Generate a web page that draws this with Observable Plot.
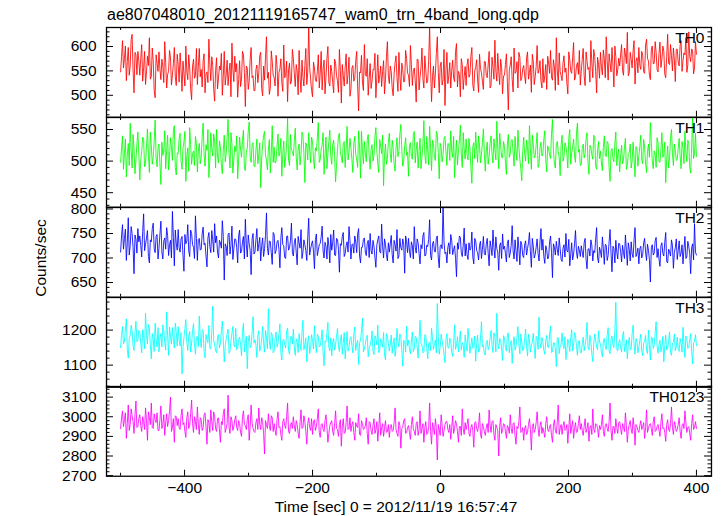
<!DOCTYPE html>
<html><head><meta charset="utf-8">
<script src="https://cdn.jsdelivr.net/npm/d3@7"></script>
<script src="https://cdn.jsdelivr.net/npm/@observablehq/plot@0.6"></script>
<style>
body{margin:0;background:#fff}
#wrap{position:relative;width:724px;height:516px;overflow:hidden;background:#fff;font-family:"Liberation Sans",Arial,Helvetica,sans-serif;color:#000}
.p{position:absolute;left:0}
.txt{position:absolute;white-space:nowrap;line-height:1}
</style></head><body>
<div id="wrap"></div>
<script>
const titleText = "ae807048010_20121119165747_wam0_trn_4band_long.qdp";
const xLabel = "Time [sec] 0 = 2012/11/19 16:57:47";
const yLabel = "Counts/sec";
// time bins: start and bin width (sec)
const t0 = -500, dt = 1.5;

const th0 = [
548,580,612,556,575,601,530,569,598,541,560,614,625,552,505,588,583,542,590,571,
541,575,604,529,557,590,522,548,580,561,618,533,538,597,571,510,495,583,566,549,
589,553,532,574,560,526,610,567,515,543,549,592,577,521,541,565,598,538,520,584,
563,527,587,552,508,570,545,519,601,548,532,583,556,512,491,560,574,535,540,596,
522,559,596,538,553,517,570,585,505,544,548,526,615,563,530,579,561,512,488,551,
577,513,535,560,552,586,500,539,590,521,541,572,520,548,566,497,607,554,528,580,
548,565,496,532,571,518,533,590,583,547,477,560,556,512,529,574,598,536,540,509,
510,553,562,526,545,581,588,514,499,560,531,578,620,535,547,502,515,591,570,541,
536,519,582,560,498,547,554,575,526,508,603,536,541,570,487,552,566,523,529,594,
575,545,518,563,550,501,592,537,506,572,538,519,561,596,522,548,640,557,533,510,
497,568,556,531,528,549,583,515,545,590,511,554,572,503,538,576,600,526,519,562,
549,527,505,574,566,540,530,506,594,551,484,563,541,519,557,585,523,543,578,498,
512,556,561,529,535,571,590,517,468,548,546,582,527,510,604,542,539,575,500,534,
565,514,529,553,552,586,495,537,583,525,540,560,518,548,571,503,533,579,610,540,
524,560,548,515,499,544,567,581,536,508,588,539,510,566,553,527,529,592,575,546,
541,518,602,563,520,549,556,530,486,574,573,511,538,556,597,534,515,581,552,525,
530,571,640,552,487,538,560,515,545,586,620,547,505,560,568,521,532,594,479,550,
588,524,541,567,515,551,572,535,528,590,606,517,549,543,497,575,563,512,538,559,
520,562,575,537,543,580,598,521,509,550,557,573,531,506,584,555,546,529,512,569,
569,541,536,562,590,515,520,578,557,533,613,550,529,586,548,522,574,557,503,540,
541,563,585,528,470,551,562,579,533,507,597,545,548,569,515,588,578,530,536,554,
561,540,524,577,589,533,547,562,506,584,570,522,538,559,602,545,552,571,529,515,
575,526,540,563,512,580,566,545,592,537,531,573,558,510,618,552,521,587,549,540,
530,566,581,547,556,525,503,589,573,550,545,578,608,531,538,560,567,543,592,521,
549,574,596,540,520,589,571,553,557,527,612,566,536,594,580,548,505,578,563,535,
588,557,542,593,575,536,620,571,531,585,566,548,598,562,517,601,579,540,552,576,
560,583,604,551,541,597,585,565,629,540,546,588,574,556,591,612,523,570,577,546,
598,561,553,590,582,548,545,603,615,576,570,541,532,595,601,564,566,610,588,553,
548,586,609,557,574,601,590,543,536,579,625,566,563,604,581,550,597,573,528,594,
595,568,560,603,612,549,571,587,583,618,547,562,630,580,569,595,591,544,556,610,
584];

const th1 = [
498,521,540,487,512,535,475,509,528,493,560,517,489,542,519,480,503,527,546,512,
470,502,515,538,533,491,496,524,551,510,482,546,524,495,507,531,565,505,491,520,
527,495,463,530,509,516,548,488,518,541,486,507,537,522,501,549,556,490,478,513,
512,536,544,500,487,520,530,547,468,509,521,484,553,526,495,512,516,493,539,528,
483,515,528,496,505,539,560,511,492,526,517,550,474,502,545,520,508,543,531,489,
550,508,497,532,523,494,480,518,541,499,511,537,566,512,489,545,526,481,503,524,
515,540,472,503,538,519,506,533,549,488,485,514,520,547,562,507,498,526,529,492,
491,517,535,496,510,529,458,505,526,541,547,510,501,486,519,534,481,513,556,498,
522,497,499,524,543,508,514,536,476,511,532,490,505,527,568,501,493,542,518,515,
508,531,552,506,486,519,527,494,511,546,540,513,466,529,523,502,545,517,497,538,
530,504,488,521,516,537,561,498,502,519,525,545,479,510,538,488,512,531,549,507,
495,526,533,509,467,492,519,540,544,515,506,497,528,531,490,518,555,502,514,536,
521,503,482,528,539,511,503,490,548,522,473,547,517,496,531,513,499,534,542,508,
487,519,526,500,509,538,553,516,495,482,534,523,512,541,461,509,527,495,505,530,
544,511,498,533,520,495,484,521,537,507,515,543,558,518,492,500,524,537,509,514,
476,524,529,507,503,542,547,497,518,530,489,515,536,488,507,526,564,510,496,539,
517,494,555,520,485,533,528,506,501,547,543,512,472,528,522,499,510,536,539,515,
493,528,527,501,548,516,506,539,474,509,533,494,515,532,557,511,490,545,520,503,
535,510,502,536,519,491,465,523,529,504,546,518,498,540,524,497,511,529,551,512,
484,516,530,495,507,528,540,511,497,535,518,502,563,520,488,544,525,506,505,531,
523,498,479,527,542,506,511,533,534,514,492,539,516,501,549,521,503,488,469,515,
538,512,500,533,521,496,556,519,487,541,527,505,508,526,545,490,495,522,530,508,
512,535,548,502,483,524,519,510,504,543,566,517,496,489,528,531,515,506,477,526,
541,500,506,529,524,511,489,537,550,495,513,522,535,508,498,545,560,514,519,493,
494,520,527,505,512,536,545,498,479,525,522,510,503,541,539,492,487,517,531,504,
516,497,485,522,540,509,507,531,528,490,468,515,520,504,499,527,546,493,510,519,
483,508,525,496,502,521,536,487,493,512,514,527,489,500,530,505,475,523,519,492,
508,523,541,502,496,534,521,497,482,515,527,506,561,529,500,488,516,511,490,537,
529,499,498,518,545,506,511,530,466,504,524,489,506,536,550,512,493,527,517,501,
503,520,536,508,488,531,522,496,547,515,499,533,528,490,481,523,570,504,512,544,
507];

const th2 = [
712,745,768,718,740,759,695,731,782,706,725,764,750,722,668,747,738,710,760,733,
745,726,702,754,790,715,728,741,756,703,690,737,733,760,771,719,711,744,748,698,
720,749,775,712,698,735,741,718,762,746,705,727,736,700,795,742,684,757,730,716,
758,721,712,739,744,706,673,748,729,735,768,714,703,757,750,727,722,699,786,740,
695,738,740,716,718,749,763,727,730,704,682,741,752,723,711,756,737,712,770,731,
745,712,700,736,731,720,776,744,655,729,724,705,748,751,708,726,765,697,719,739,
738,721,690,745,757,710,713,733,744,698,779,728,702,747,729,716,666,739,750,708,
712,737,760,714,728,742,694,725,741,703,719,746,792,720,706,735,733,711,687,752,
748,709,715,733,736,718,680,741,762,727,725,701,699,744,745,716,721,735,771,712,
704,731,740,712,686,744,731,720,758,699,712,737,727,715,695,742,781,706,718,729,
735,712,678,738,749,705,716,727,730,743,765,714,700,732,724,698,742,725,690,748,
716,731,757,706,705,740,738,718,671,729,726,744,752,703,709,725,733,712,764,736,
698,727,729,710,745,733,711,749,760,704,690,722,722,738,741,712,705,729,736,701,
750,715,708,736,724,702,681,727,737,745,713,710,769,724,700,739,728,707,694,731,
712,729,746,707,690,736,727,714,758,699,704,740,721,716,739,728,669,745,733,711,
740,714,701,733,725,698,764,722,710,739,731,709,688,727,719,745,752,704,706,726,
723,738,778,705,696,729,734,714,712,741,745,700,680,724,727,719,805,733,709,712,
690,722,731,708,748,736,707,717,725,699,662,731,718,745,742,711,703,726,761,704,
729,707,697,731,716,720,753,702,688,740,735,715,711,696,726,734,699,718,744,709,
706,728,740,710,684,735,722,705,757,721,700,743,719,712,675,726,731,699,749,718,
724,709,692,730,737,701,710,726,766,714,698,737,715,693,743,720,686,734,727,705,
701,727,735,706,719,731,752,713,681,740,724,700,707,722,739,709,694,733,760,716,
738,703,689,725,717,698,702,733,745,711,660,729,722,706,734,718,705,741,719,697,
693,720,727,702,750,715,712,738,684,707,731,696,708,729,756,712,699,724,716,703,
725,712,701,731,740,697,678,718,719,704,737,726,694,715,711,739,762,700,690,722,
714,701,743,719,687,728,726,695,705,733,758,710,672,724,720,690,736,712,698,730,
729,713,692,726,711,699,747,716,685,731,718,694,733,708,701,737,762,703,709,720,
688,719,724,700,707,731,740,712,695,728,716,697,651,722,727,706,710,735,742,701,
719,698,683,725,731,709,704,732,752,693,690,718,713,704,737,726,679,711,721,739,
697,715,735,703,710,727,688,718,744,699,702,734,724,709,668,721,729,696,770,712,
706];

const th3 = [
1150,1188,1210,1161,1168,1203,1232,1145,1120,1177,1185,1214,1198,1156,1142,1192,1225,1167,1170,1199,
1195,1163,1135,1201,1180,1147,1248,1184,1160,1216,1205,1158,1118,1190,1176,1139,1220,1174,1152,1207,
1138,1177,1190,1152,1215,1198,1165,1143,1252,1185,1128,1209,1182,1160,1207,1174,1149,1220,1196,1155,
1210,1171,1155,1193,1075,1150,1178,1204,1230,1166,1142,1183,1196,1137,1163,1199,1218,1158,1131,1180,
1182,1153,1240,1178,1150,1201,1199,1139,1121,1187,1172,1164,1213,1148,1146,1195,1268,1170,1160,1141,
1135,1180,1187,1149,1162,1197,1226,1171,1109,1155,1176,1188,1203,1134,1140,1169,1191,1210,1158,1152,
1205,1144,1148,1173,1180,1159,1127,1196,1219,1138,1165,1182,1090,1167,1185,1150,1156,1191,1238,1163,
1172,1158,1122,1184,1198,1140,1151,1175,1210,1162,1137,1199,1178,1147,1261,1168,1145,1193,1186,1135,
1140,1177,1195,1152,1160,1189,1218,1136,1115,1170,1174,1158,1149,1197,1206,1143,1131,1181,1182,1160,
1203,1149,1128,1175,1167,1136,1190,1161,1142,1195,1228,1144,1159,1178,1110,1166,1184,1133,1151,1187,
1170,1146,1213,1163,1136,1188,1182,1152,1155,1174,1201,1137,1098,1169,1166,1193,1222,1150,1141,1178,
1127,1165,1176,1143,1158,1182,1205,1154,1139,1170,1187,1131,1162,1193,1118,1157,1196,1140,1150,1176,
1181,1156,1135,1188,1209,1142,1160,1171,1102,1163,1172,1197,1234,1138,1146,1160,1178,1185,1124,1149,
1157,1169,1198,1141,1130,1184,1175,1158,1214,1136,1144,1175,1166,1151,1193,1129,1115,1190,1180,1162,
1140,1160,1186,1134,1163,1177,1125,1148,1205,1166,1152,1189,1179,1142,1097,1171,1168,1137,1211,1155,
1171,1146,1133,1168,1195,1139,1147,1182,1180,1153,1120,1174,1228,1161,1158,1135,1139,1187,1184,1150,
1118,1162,1166,1141,1206,1176,1145,1159,1172,1135,1276,1183,1131,1152,1188,1169,1153,1130,1107,1173,
1190,1151,1148,1177,1169,1136,1125,1163,1215,1145,1156,1181,1138,1170,1197,1143,1164,1158,1122,1186,
1163,1140,1205,1172,1134,1157,1178,1148,1150,1183,1111,1162,1186,1137,1142,1175,1224,1153,1157,1131,
1129,1167,1171,1144,1152,1179,1199,1158,1136,1192,1183,1138,1248,1161,1146,1176,1168,1149,1113,1184,
1177,1150,1140,1186,1192,1135,1159,1170,1105,1156,1181,1143,1153,1178,1210,1161,1132,1189,1166,1141,
1145,1174,1203,1155,1126,1188,1172,1137,1158,1166,1191,1150,1119,1182,1176,1145,1237,1163,1149,1179,
1168,1142,1131,1170,1185,1152,1150,1189,1212,1136,1138,1164,1163,1147,1096,1176,1179,1133,1155,1160,
1192,1158,1147,1181,1116,1145,1174,1162,1139,1177,1201,1140,1160,1193,1184,1153,1128,1168,1170,1136,
1135,1163,1180,1141,1158,1176,1222,1150,1143,1185,1167,1132,1110,1159,1189,1171,1152,1144,1198,1166,
1161,1137,1124,1169,1176,1152,1145,1187,1207,1141,1133,1174,1183,1158,1150,1196,1280,1146,1140,1162,
1173,1150,1137,1184,1196,1139,1155,1172,1118,1160,1179,1143,1146,1190,1214,1157,1131,1176,1166,1135,
1150,1171,1188,1140,1127,1163,1169,1185,1142,1133,1200,1158,1115,1179,1178,1148,1156,1192,1224,1154,
1134,1160,1171,1138,1153,1182,1109,1155,1186,1143,1147,1170,1195,1136,1128,1161,1166,1189,1141,1152,
1180,1145,1139,1176,1162,1137,1208,1159,1122,1183,1174,1148,1151,1172,1190,1140,1103,1164,1168,1187,
1155];

const th0123 = [
2940,2995,3030,2950,2985,3020,2890,2965,3060,2930,2960,3040,3005,2975,2915,3010,3080,2945,2950,2990,
3010,2955,2925,3000,2975,2935,3045,2980,2880,3025,2995,2960,3070,2945,2940,3015,2985,2970,3020,2930,
2930,2985,3055,2940,2960,3010,2905,2970,3015,2950,2980,3030,3100,2925,2945,2990,2870,3005,3000,2955,
2990,2945,2935,3005,3040,2960,2970,2925,2895,2995,3025,2940,2955,3015,3085,2965,2920,3000,2975,2935,
3050,2960,2910,2995,2985,2930,2945,3010,3020,2950,2860,2985,2970,2920,3035,2975,2930,3025,3000,2940,
2925,2990,2995,2935,2870,2975,2960,3015,3040,2920,2940,2965,3110,2945,2915,3000,2980,2930,2950,2985,
3005,2945,2930,2980,2965,2920,2900,3000,3030,2960,2955,2935,2985,3010,2880,2950,3060,2970,2940,2925,
2920,2970,2990,2935,3045,2960,2935,2995,2975,2915,2810,2980,2960,2940,3015,2955,2930,3005,2995,2925,
2965,2930,2905,2985,3025,2945,2950,2910,2880,2975,2990,2955,2940,3000,3070,2925,2915,2960,2970,2940,
3000,2955,2925,2980,2960,2915,2890,2970,3035,2940,2945,3005,2975,2925,2860,2965,2995,2945,2930,2990,
2910,2975,2985,2930,2950,2990,3040,2920,2895,2960,2965,2935,2925,2980,3010,2945,2870,2915,2955,2970,
2980,2925,2905,2965,3030,2940,2935,2900,2960,2985,2850,2950,2990,2915,2920,2970,3055,2935,2940,2995,
2925,2960,2975,2920,2880,2970,2950,2945,3015,2910,2905,2980,2965,2935,2940,2955,2995,2915,2860,2975,
2970,2930,2910,2955,2990,2915,2935,2975,2875,2945,3020,2905,2945,2965,2900,2940,2980,2920,2925,2960,
2895,2950,2960,2925,2930,2970,3045,2935,2915,2900,2975,2955,2840,2940,2950,2980,2990,2915,2920,2945,
2955,2920,2885,2960,3000,2940,2925,2905,2965,2975,2905,2935,3030,2915,2940,2965,2870,2945,2975,2910,
2915,2950,3070,2925,2860,2970,2945,2910,2990,2940,2780,2960,2935,2905,3010,2955,2900,2930,2960,2975,
2975,2935,2920,2960,2885,2945,3005,2915,2940,2980,2965,2925,2870,2950,2950,2905,3040,2940,2910,2970,
2935,2960,2990,2915,2900,2945,2960,2930,2845,2970,2975,2940,2925,2955,3020,2910,2890,2965,2950,2925,
2905,2945,2965,2920,3035,2955,2920,2975,2980,2910,2880,2960,2945,2930,2800,2950,2995,2915,2930,2965,
2960,2925,2890,2955,2945,2915,3010,2940,2915,2965,2970,2905,2860,2950,2940,2975,3050,2920,2925,2945,
2880,2940,2955,2910,2920,2960,2990,2935,2830,2950,2965,2920,2935,2970,3025,2945,2900,2955,2975,2915,
2945,2920,2895,2965,3000,2935,2925,2950,2960,2905,2870,2955,2985,2930,2915,2975,3060,2910,2940,2960,
2910,2955,2975,2930,2935,2960,2865,2945,3015,2915,2950,2980,2890,2940,2970,2920,2925,2965,3005,2935,
2965,2930,2905,2950,2990,2920,2940,2970,2875,2945,2955,2910,3040,2935,2920,2965,2960,2940,2895,2955,
2935,2960,3010,2925,2900,2955,2965,2940,2925,2975,3070,2930,2880,2950,2950,2915,2990,2945,2915,2970,
2975,2940,2910,2965,2945,2925,3020,2955,2870,2935,2960,2980,2935,2915,2995,2950,2855,2960,2950,2930,
2920,2955,2980,2935,2950,2970,2890,2945,3035,2920,2940,2960,2965,2940,2905,2975,3000,2925,2930,2950,
2960,2930,2900,2970,3015,2940,2945,2920,2875,2960,2985,2935,2925,2965,3050,2945,2910,2975,2955,2925,
2935,2960,2995,2925,2890,2955,2965,2940,3030,2970,2920,2945,2950,2915,2880,2965,3010,2935,2945,2975,
2940];

const panelNames = ["TH0", "TH1", "TH2", "TH3", "TH0123"];
const panelColors = ["#ff0000", "#00ff00", "#0000ff", "#00ffff", "#ff00ff"];
const panelSeries = [th0, th1, th2, th3, th0123];
const yDomains = [[455, 639], [427, 569], [620, 803], [1037, 1293], [2697, 3154]];
const yMajor = [[500, 550, 600], [450, 500, 550], [650, 700, 750, 800], [1100, 1200], [2700, 2800, 2900, 3000, 3100]];
const yMinorStep = [10, 10, 10, 20, 20];
const xDomain = [-522, 423.5];
const xMajor = [-400, -200, 0, 200, 400];
const xMinor = [-500, -300, -100, 100, 300];

const W = 724, mL = 106, mR = 13;
const fw = W - mL - mR;
const top0 = 27.3, panelH = 89.74, bottomExtra = 40;
const font = '"Liberation Sans", Arial, Helvetica, sans-serif';
const wrap = document.getElementById("wrap");

panelSeries.forEach((series, i) => {
  const last = i === panelSeries.length - 1;
  const ph = panelH;
  const d = yDomains[i];
  const minor = d3.range(Math.ceil(d[0] / yMinorStep[i]) * yMinorStep[i], d[1], yMinorStep[i]).filter(v => !yMajor[i].includes(v));
  const marks = [
    Plot.line(series, {x: (v, j) => t0 + j * dt, y: v => v, stroke: panelColors[i], strokeWidth: 0.85, clip: true}),
    Plot.tickY(yMajor[i], {y: v => v, insetRight: fw - 7, stroke: "#000"}),
    Plot.tickY(yMajor[i], {y: v => v, insetLeft: fw - 7, stroke: "#000"}),
    Plot.tickY(minor, {y: v => v, insetRight: fw - 3.5, stroke: "#000"}),
    Plot.tickY(minor, {y: v => v, insetLeft: fw - 3.5, stroke: "#000"}),
    Plot.tickX(xMajor, {x: v => v, insetBottom: ph - 6, stroke: "#000"}),
    Plot.tickX(xMajor, {x: v => v, insetTop: ph - 6, stroke: "#000"}),
    Plot.tickX(xMinor, {x: v => v, insetBottom: ph - 3, stroke: "#000"}),
    Plot.tickX(xMinor, {x: v => v, insetTop: ph - 3, stroke: "#000"}),
    Plot.axisY({ticks: yMajor[i], tickSize: 0, tickPadding: 10, tickFormat: v => String(v)}),
    Plot.frame({stroke: "#000", strokeWidth: 1.3}),
    Plot.text([panelNames[i]], {text: v => v, frameAnchor: "top-right", textAnchor: "end", lineAnchor: "top", dx: -7, dy: 4.5, fontSize: 15.5, fill: "#000"})
  ];
  if (last) marks.push(Plot.axisX({ticks: xMajor, tickSize: 0, tickPadding: 6}));
  const chart = Plot.plot({
    width: W,
    height: ph + (last ? bottomExtra : 0),
    marginLeft: mL, marginRight: mR, marginTop: 0, marginBottom: last ? bottomExtra : 0,
    x: {domain: xDomain, axis: last ? undefined : null, label: null},
    y: {domain: d, label: null},
    style: {fontFamily: font, fontSize: "15.5px", color: "#000", background: "transparent", overflow: "visible"},
    marks
  });
  chart.classList.add("p");
  chart.style.top = (top0 + i * panelH) + "px";
  wrap.appendChild(chart);
});

function addText(txt, css) {
  const el = document.createElement("div");
  el.className = "txt";
  el.textContent = txt;
  Object.assign(el.style, css);
  wrap.appendChild(el);
  return el;
}
addText(titleText, {left: "107px", top: "6.5px", fontSize: "16px"});
addText(xLabel, {left: "0px", top: "499px", fontSize: "15.5px", width: "792px", textAlign: "center"});
addText(yLabel, {left: "41px", top: "258px", fontSize: "15.5px", transform: "translate(-50%,-50%) rotate(-90deg)", transformOrigin: "center"});
</script>
</body></html>
